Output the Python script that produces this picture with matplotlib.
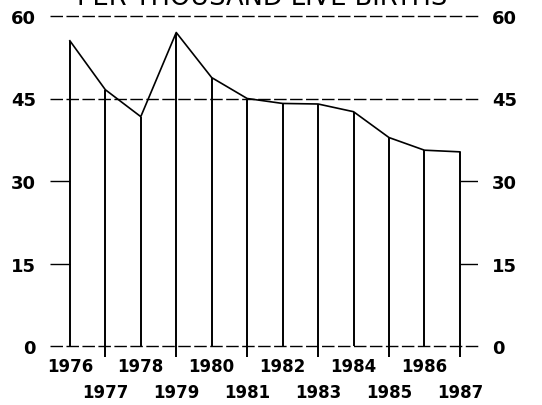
import matplotlib
matplotlib.use("Agg")
import matplotlib.pyplot as plt

# infant mortality, per thousand live births
years = [1976, 1977, 1978, 1979, 1980, 1981, 1982, 1983, 1984, 1985, 1986, 1987]
rates = [55.5, 46.6, 41.7, 57.0, 48.8, 45.0, 44.1, 44.0, 42.6, 37.9, 35.6, 35.3]
y_ticks = [0, 15, 30, 45, 60]
title = "PER THOUSAND LIVE BIRTHS"

plt.rcParams['font.family'] = ['DejaVu Sans']

W, H = 542, 406
fig = plt.figure(figsize=(W / 100, H / 100), dpi=100)
ax = fig.add_axes([50 / W, (H - 347) / H, 428 / W, 330 / H])
ax.set_xlim(1975.44, 1987.51)
ax.set_ylim(0, 60)
for s in ax.spines.values():
    s.set_visible(False)

# dashed guide lines
for v in [0, 45, 60]:
    ax.axhline(v, color='black', lw=1.0, dashes=(9, 2.5), clip_on=False)
# short ticks at the edges
for v in [15, 30]:
    ax.hlines(v, 1975.44, years[0], color='black', lw=1.0)
    ax.hlines(v, years[-1], 1987.51, color='black', lw=1.0)

# drop lines, odd years go a bit below the base
for yr, r in zip(years, rates):
    low = -2.0 if yr % 2 == 1 else 0
    ax.vlines(yr, low, r, color='black', lw=1.4, clip_on=False)
ax.plot(years, rates, color='black', lw=1.2)

ax.set_yticks(y_ticks)
ax.set_yticklabels([str(t) for t in y_ticks])
ax.set_xticks([])
ax.tick_params(axis='y', length=0, pad=10, labelsize=13, left=False,
               labelright=True)
for lab in ax.get_yticklabels():
    lab.set_fontweight('bold')

for i, yr in enumerate(years):
    yy = -3.6 if i % 2 == 0 else -8.4
    ax.text(yr, yy, str(yr), ha='center', va='center', fontsize=12,
            fontweight='bold', clip_on=False)

# title sits half off the top edge, as in the scan
fig.text(0.483, 1.006, title, ha='center', va='center', fontsize=18.5)

fig.savefig("out.png", dpi=100)
